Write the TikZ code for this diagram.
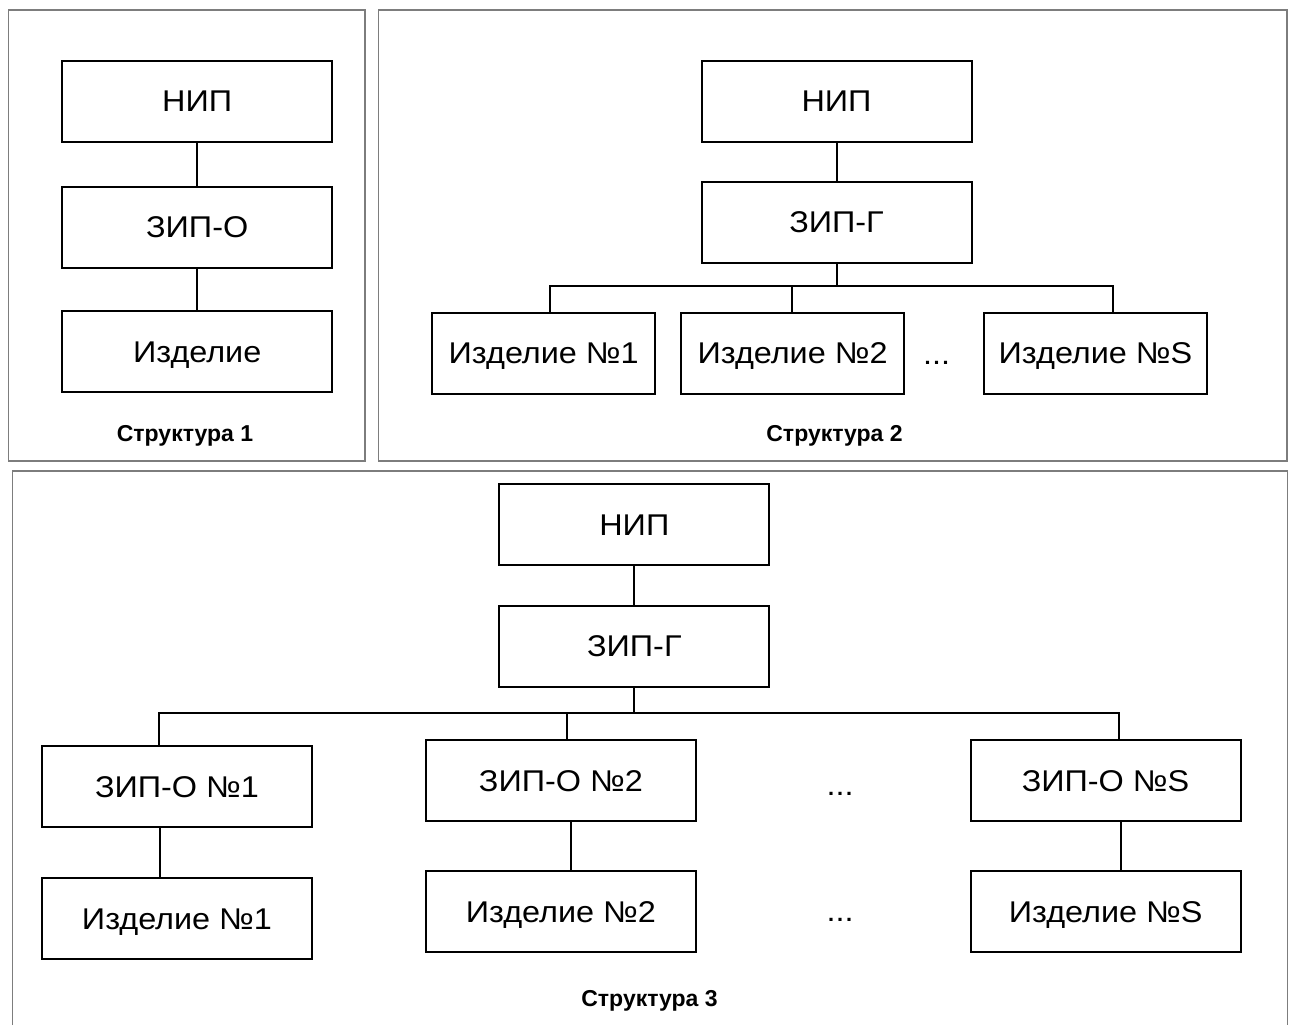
\documentclass[tikz,border=0pt]{standalone}
\usepackage{fontspec}
\setmainfont{Liberation Sans}
\newfontfamily\boxfont[FakeStretch=1.08]{Liberation Sans}
\definecolor{framegray}{RGB}{125,125,125}
\begin{document}
\begin{tikzpicture}[x=1pt,y=-1pt,
  frame/.style={draw=framegray, line width=1.3pt},
  blk/.style={draw, line width=2pt, inner sep=0pt,
    font=\boxfont\fontsize{30}{36}\selectfont, text height=21.5pt, text depth=0pt,
    minimum height=81pt, minimum width=270pt},
  item/.style={blk, minimum width=223pt},
  wire/.style={line width=2pt, line join=miter},
  dots/.style={anchor=base, inner sep=0pt, font=\boxfont\fontsize{30}{36}\selectfont},
  caption/.style={anchor=base, inner sep=0pt, font=\fontsize{23}{27}\selectfont\bfseries}]
\useasboundingbox (0,0) rectangle (1292,1025);
\fill[white] (0,0) rectangle (1292,1025);

% panel frames
\draw[frame] (8.3,10) rectangle (365,461);
\draw[frame] (378.3,10) rectangle (1287,461);
\draw[frame] (12.3,1025) -- (12.3,471) -- (1287.3,471) -- (1287.3,1025);

% ---------- Structure 1 ----------
\node[blk] (n1) at (197.2,101.2) {НИП};
\node[blk] (z1) at (197.2,227) {ЗИП-О};
\node[blk] (i1) at (197.2,351.8) {Изделие};
\draw[wire] (n1.south) -- (z1.north);
\draw[wire] (z1.south) -- (i1.north);
\node[caption] (cap1) at (185,441) {Структура 1};

% ---------- Structure 2 ----------
\node[blk] (n2) at (836.5,101.2) {НИП};
\node[blk] (g2) at (836.5,222.2) {ЗИП-Г};
\node[item] (a1) at (543.7,353.2) {Изделие №1};
\node[item] (a2) at (792.6,353.2) {Изделие №2};
\node[item] (aS) at (1095.5,353.2) {Изделие №S};
\node[dots] (d2) at (936.5,364) {...};
\coordinate (b21) at (550,285.7);
\coordinate (b22) at (792.2,285.7);
\coordinate (b2S) at (1112.9,285.7);
\draw[wire] (n2.south) -- (g2.north);
\draw[wire] (g2.south) -- (g2.south |- b21);
\draw[wire] (a1.north -| b21) -- (b21) -- (b2S) -- (aS.north -| b2S);
\draw[wire] (b22) -- (a2.north -| b22);
\node[caption] (cap2) at (834.5,441) {Структура 2};

% ---------- Structure 3 ----------
\node[blk] (n3) at (634.3,524.7) {НИП};
\node[blk] (g3) at (634.3,646) {ЗИП-Г};
\node[blk] (o1) at (177,786.8) {ЗИП-О №1};
\node[blk] (o2) at (560.9,780.3) {ЗИП-О №2};
\node[blk] (oS) at (1105.5,780.3) {ЗИП-О №S};
\node[blk] (p1) at (177,918.3) {Изделие №1};
\node[blk] (p2) at (560.9,911.3) {Изделие №2};
\node[blk] (pS) at (1105.7,911.3) {Изделие №S};
\node[dots] (d31) at (840,795) {...};
\node[dots] (d32) at (840,921.7) {...};
\coordinate (b31) at (159.3,713.3);
\coordinate (b32) at (566.7,713.3);
\coordinate (b3S) at (1119.3,713.3);
\coordinate (c31) at (160,0);
\coordinate (c32) at (570.7,0);
\coordinate (c3S) at (1120.7,0);
\draw[wire] (n3.south) -- (g3.north);
\draw[wire] (g3.south) -- (g3.south |- b31);
\draw[wire] (o1.north -| b31) -- (b31) -- (b3S) -- (oS.north -| b3S);
\draw[wire] (b32) -- (o2.north -| b32);
\draw[wire] (o1.south -| c31) -- (p1.north -| c31);
\draw[wire] (o2.south -| c32) -- (p2.north -| c32);
\draw[wire] (oS.south -| c3S) -- (pS.north -| c3S);
\node[caption] (cap3) at (649.5,1006) {Структура 3};
\end{tikzpicture}
\end{document}
